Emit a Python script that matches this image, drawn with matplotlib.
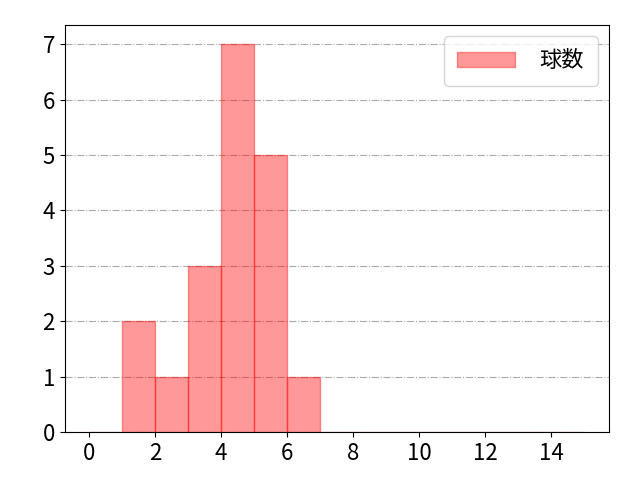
import numpy as np
import matplotlib
matplotlib.use('Agg')
import matplotlib.pyplot as plt

plt.rcParams['font.family'] = ['Noto Sans CJK JP', 'DejaVu Sans']

# bin edges and counts per bin
bin_edges = np.arange(0, 16)
counts = [0, 2, 1, 3, 7, 5, 1, 0, 0, 0, 0, 0, 0, 0, 0]
label = '球数'

fig, ax = plt.subplots(figsize=(6.4, 4.8), dpi=100)

ax.hist(bin_edges[:-1], bins=bin_edges, weights=counts,
        color='red', alpha=0.4, edgecolor='red', label=label)

ax.set_xticks(np.arange(0, 15, 2))
ax.tick_params(labelsize=16)
ax.grid(True, axis='y', linestyle='-.', color='#aaaaaa', linewidth=0.8)
ax.set_axisbelow(True)
ax.legend(loc='upper right', fontsize=16, handlelength=2.6, handletextpad=1.1,
          borderpad=0.6)

fig.subplots_adjust(left=0.101, right=0.951, top=0.948, bottom=0.1)
plt.savefig('out.png', dpi=100)
